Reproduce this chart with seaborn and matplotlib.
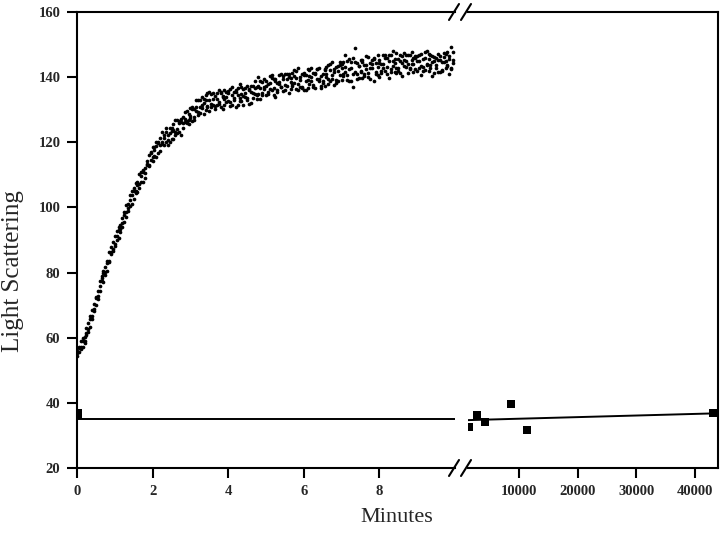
import numpy as np
import pandas as pd
import matplotlib
matplotlib.use("Agg")
import matplotlib.pyplot as plt
import seaborn as sns
from matplotlib.lines import Line2D

# kinetic trace (minutes) - sampled every 0.05 min, three readings per time
minutes = [
    0.00, 0.05, 0.10, 0.15, 0.20, 0.25, 0.30, 0.35, 0.40, 0.45,
    0.50, 0.55, 0.60, 0.65, 0.70, 0.75, 0.80, 0.85, 0.90, 0.95,
    1.00, 1.05, 1.10, 1.15, 1.20, 1.25, 1.30, 1.35, 1.40, 1.45,
    1.50, 1.55, 1.60, 1.65, 1.70, 1.75, 1.80, 1.85, 1.90, 1.95,
    2.00, 2.05, 2.10, 2.15, 2.20, 2.25, 2.30, 2.35, 2.40, 2.45,
    2.50, 2.55, 2.60, 2.65, 2.70, 2.75, 2.80, 2.85, 2.90, 2.95,
    3.00, 3.05, 3.10, 3.15, 3.20, 3.25, 3.30, 3.35, 3.40, 3.45,
    3.50, 3.55, 3.60, 3.65, 3.70, 3.75, 3.80, 3.85, 3.90, 3.95,
    4.00, 4.05, 4.10, 4.15, 4.20, 4.25, 4.30, 4.35, 4.40, 4.45,
    4.50, 4.55, 4.60, 4.65, 4.70, 4.75, 4.80, 4.85, 4.90, 4.95,
    5.00, 5.05, 5.10, 5.15, 5.20, 5.25, 5.30, 5.35, 5.40, 5.45,
    5.50, 5.55, 5.60, 5.65, 5.70, 5.75, 5.80, 5.85, 5.90, 5.95,
    6.00, 6.05, 6.10, 6.15, 6.20, 6.25, 6.30, 6.35, 6.40, 6.45,
    6.50, 6.55, 6.60, 6.65, 6.70, 6.75, 6.80, 6.85, 6.90, 6.95,
    7.00, 7.05, 7.10, 7.15, 7.20, 7.25, 7.30, 7.35, 7.40, 7.45,
    7.50, 7.55, 7.60, 7.65, 7.70, 7.75, 7.80, 7.85, 7.90, 7.95,
    8.00, 8.05, 8.10, 8.15, 8.20, 8.25, 8.30, 8.35, 8.40, 8.45,
    8.50, 8.55, 8.60, 8.65, 8.70, 8.75, 8.80, 8.85, 8.90, 8.95,
    9.00, 9.05, 9.10, 9.15, 9.20, 9.25, 9.30, 9.35, 9.40, 9.45,
    9.50, 9.55, 9.60, 9.65, 9.70, 9.75, 9.80, 9.85, 9.90, 9.95,
]

scatter_a = [
    55.8, 55.6, 59.0, 57.3, 60.3, 62.9, 61.9, 65.6, 65.8, 70.5,
    70.1, 74.2, 77.3, 77.3, 77.1, 81.6, 82.9, 83.2, 88.0, 87.3,
    91.1, 90.1, 90.5, 94.5, 96.8, 95.6, 100.7, 99.7, 100.4, 103.9,
    104.9, 107.6, 104.8, 107.2, 110.9, 107.8, 112.1, 114.4, 113.0, 114.7,
    118.4, 115.9, 115.4, 119.8, 121.2, 120.0, 119.1, 124.3, 122.2, 120.2,
    120.9, 123.8, 126.7, 122.9, 125.9, 122.2, 127.8, 126.1, 129.7, 126.7,
    130.4, 126.6, 130.1, 132.9, 129.3, 130.7, 133.9, 128.8, 133.1, 131.2,
    135.4, 130.9, 133.3, 130.1, 135.1, 132.4, 135.0, 130.3, 136.2, 132.5,
    132.8, 136.3, 131.5, 135.4, 130.9, 134.5, 137.8, 132.7, 134.3, 136.7,
    137.4, 131.8, 135.4, 137.3, 134.9, 133.3, 140.0, 136.7, 135.1, 139.4,
    134.4, 137.8, 140.2, 136.1, 139.4, 134.0, 138.3, 140.6, 137.1, 135.8,
    141.1, 137.2, 135.2, 139.6, 141.4, 138.2, 136.5, 142.7, 140.0, 137.1,
    136.0, 140.6, 139.2, 137.8, 142.9, 137.1, 141.3, 139.5, 142.8, 136.6,
    140.9, 137.2, 143.2, 139.5, 138.8, 144.6, 141.5, 138.1, 143.4, 140.8,
    139.2, 144.5, 146.8, 140.8, 142.6, 138.7, 145.9, 141.6, 144.2, 139.7,
    145.4, 139.6, 143.7, 146.6, 141.4, 142.9, 145.3, 138.8, 144.2, 140.8,
    139.9, 143.9, 146.7, 141.8, 145.9, 139.7, 146.8, 143.4, 141.6, 147.5,
    145.6, 141.2, 144.2, 147.5, 143.2, 141.3, 146.9, 144.0, 145.8, 142.5,
    146.6, 142.8, 140.7, 145.5, 147.6, 143.9, 141.9, 146.9, 140.5, 145.1,
    143.6, 147.1, 141.6, 144.8, 146.2, 142.7, 147.8, 141.0, 149.3, 144.3,
]

scatter_b = [
    54.5, 57.2, 56.6, 58.9, 58.4, 60.7, 64.4, 63.2, 68.4, 68.9,
    72.6, 71.9, 75.8, 79.0, 79.8, 79.3, 80.4, 86.2, 85.6, 89.3,
    88.8, 92.9, 93.1, 92.5, 95.3, 98.7, 97.2, 101.0, 103.8, 101.2,
    102.6, 105.0, 107.7, 110.3, 107.7, 110.9, 109.1, 112.9, 116.0, 116.6,
    115.4, 118.5, 118.9, 116.8, 119.1, 123.1, 122.2, 120.1, 119.3, 124.3,
    124.4, 121.0, 123.3, 126.9, 123.2, 126.1, 125.8, 129.4, 126.0, 128.6,
    127.4, 130.3, 126.7, 129.5, 133.1, 129.1, 131.6, 133.2, 129.8, 135.0,
    129.6, 134.7, 131.6, 134.2, 131.3, 136.1, 130.9, 133.9, 133.2, 135.4,
    135.1, 132.3, 137.0, 133.6, 135.9, 131.4, 133.6, 137.0, 131.5, 135.2,
    133.0, 136.1, 132.2, 135.2, 138.7, 136.9, 134.9, 133.2, 138.4, 136.5,
    138.7, 134.9, 136.4, 140.8, 134.6, 138.7, 136.2, 137.8, 141.0, 139.4,
    137.6, 141.1, 140.0, 136.3, 137.8, 142.2, 139.7, 136.0, 136.9, 141.0,
    141.2, 136.2, 142.5, 140.4, 138.9, 141.3, 136.8, 142.4, 138.7, 140.4,
    138.2, 142.5, 140.1, 143.6, 142.2, 139.5, 137.6, 143.2, 138.9, 144.8,
    142.9, 140.2, 141.7, 145.0, 138.9, 144.6, 136.9, 148.9, 141.0, 143.3,
    141.5, 144.8, 140.3, 142.5, 146.1, 139.4, 143.9, 145.6, 141.1, 146.8,
    145.3, 141.3, 142.7, 146.9, 141.0, 145.1, 142.6, 148.1, 144.3, 141.3,
    142.9, 146.9, 140.5, 145.3, 146.7, 144.1, 142.4, 147.8, 141.6, 146.0,
    142.0, 145.0, 147.2, 143.1, 142.3, 148.0, 145.7, 143.7, 146.4, 141.4,
    146.0, 141.5, 145.4, 142.2, 147.3, 144.9, 143.3, 146.5, 142.9, 147.6,
]

scatter_c = [
    55.2, 56.9, 57.0, 59.8, 59.0, 61.5, 62.8, 66.6, 66.8, 68.3,
    72.1, 72.7, 74.2, 78.4, 80.5, 80.1, 83.6, 83.6, 86.2, 86.5,
    88.3, 91.3, 93.9, 93.4, 94.0, 97.8, 98.6, 98.9, 102.2, 104.9,
    106.0, 104.5, 106.9, 106.1, 109.7, 111.6, 110.7, 113.3, 112.6, 117.1,
    114.2, 117.6, 120.0, 120.2, 117.2, 119.6, 121.4, 123.3, 120.8, 122.8,
    123.5, 125.6, 122.3, 124.2, 126.6, 127.2, 124.5, 127.3, 126.6, 125.6,
    128.1, 130.7, 127.9, 130.7, 128.4, 133.0, 130.6, 132.0, 134.4, 130.8,
    133.0, 131.9, 135.0, 131.1, 133.3, 131.8, 135.4, 134.3, 131.3, 133.9,
    135.6, 131.2, 134.5, 133.0, 135.4, 136.6, 132.6, 134.7, 136.3, 133.9,
    133.7, 136.3, 137.4, 133.5, 136.6, 134.6, 137.4, 138.7, 134.5, 137.1,
    137.4, 135.5, 138.2, 139.8, 136.8, 139.4, 135.4, 138.6, 136.9, 140.5,
    136.0, 139.3, 141.1, 138.5, 137.3, 140.3, 141.9, 137.9, 139.2, 136.6,
    140.6, 138.7, 136.8, 142.2, 140.1, 137.7, 141.1, 142.6, 139.5, 137.3,
    138.7, 142.3, 140.9, 138.0, 143.9, 140.8, 142.6, 139.1, 142.0, 143.7,
    143.9, 141.1, 143.1, 139.2, 145.5, 142.7, 141.1, 144.5, 139.5, 143.4,
    142.0, 145.2, 141.1, 143.7, 139.9, 144.4, 142.7, 145.9, 141.7, 143.2,
    144.2, 141.9, 144.0, 145.9, 143.2, 146.9, 141.7, 144.9, 145.6, 142.8,
    141.8, 145.1, 146.5, 143.5, 144.9, 146.8, 142.9, 145.2, 144.1, 146.4,
    145.1, 146.9, 143.3, 141.9, 145.9, 143.6, 147.2, 142.7, 144.8, 146.2,
    142.8, 145.2, 146.5, 142.0, 144.6, 147.2, 143.7, 145.7, 142.4, 145.4,
]

# long time points (squares)
square_left_t = [0.0]
square_left_v = [36.6]
square_right_t = [1610, 2970, 4330, 8690, 11460, 42940]
square_right_v = [32.7, 36.3, 34.0, 39.6, 31.7, 36.8]

# fitted baseline
fit_left_t = [0.0, 10.0]
fit_left_v = [35.0, 35.0]
fit_right_t = [1390, 43840]
fit_right_v = [34.7, 36.8]

yticks = [20, 40, 60, 80, 100, 120, 140, 160]
xticks_left = [0, 2, 4, 6, 8]
xticks_right = [10000, 20000, 30000, 40000]

sns.set_style("ticks")
plt.rcParams["font.family"] = ["Liberation Serif", "DejaVu Serif"]

trace = pd.DataFrame({
    "t": minutes * 3,
    "v": scatter_a + scatter_b + scatter_c,
})

W, H = 720, 535
fig = plt.figure(figsize=(7.2, 5.35), dpi=100)
ax1 = fig.add_axes([77 / W, 1 - 468 / H, 378 / W, 456 / H])
ax2 = fig.add_axes([468 / W, 1 - 468 / H, 250 / W, 456 / H])

sns.scatterplot(data=trace, x="t", y="v", ax=ax1, color="black", s=7,
                linewidth=0, legend=False)
sns.lineplot(x=fit_left_t, y=fit_left_v, ax=ax1, color="black", lw=1.4)
sns.scatterplot(x=square_left_t, y=square_left_v, ax=ax1, marker="s",
                color="black", s=50, linewidth=0)

sns.lineplot(x=fit_right_t, y=fit_right_v, ax=ax2, color="black", lw=1.4)
sns.scatterplot(x=square_right_t, y=square_right_v, ax=ax2, marker="s",
                color="black", s=32, linewidth=0)

for ax in (ax1, ax2):
    ax.set_ylim(20, 160)
    ax.set_xlabel("")
    ax.set_ylabel("")
    for sp in ax.spines.values():
        sp.set_linewidth(1.5)
        sp.set_color("black")
    ax.tick_params(direction="out", length=7, width=1.5, color="black",
                   labelsize=10.5, pad=5)

ax1.set_xlim(0, 10.0)
ax1.set_xticks(xticks_left)
ax1.set_yticks(yticks)
ax1.spines["right"].set_visible(False)
for lab in ax1.get_xticklabels() + ax1.get_yticklabels():
    lab.set_fontweight("bold")

ax2.set_xlim(1390, 43840)
ax2.set_xticks(xticks_right)
ax2.set_yticks([])
ax2.spines["left"].set_visible(False)
ax2.spines["right"].set_visible(True)
for lab in ax2.get_xticklabels():
    lab.set_fontweight("bold")

# axis break marks
for y0 in (468, 12):
    for x0 in (449, 461):
        fig.add_artist(Line2D([x0 / W, (x0 + 10) / W],
                              [1 - (y0 + 8) / H, 1 - (y0 - 8) / H],
                              color="black", lw=1.5))

fig.text(397 / W, 1 - 518 / H, "Minutes", ha="center", va="center", fontsize=16)
fig.text(13 / W, 1 - 271 / H, "Light Scattering", ha="center", va="center",
         rotation=90, fontsize=18)

fig.savefig("out.png", dpi=100)
